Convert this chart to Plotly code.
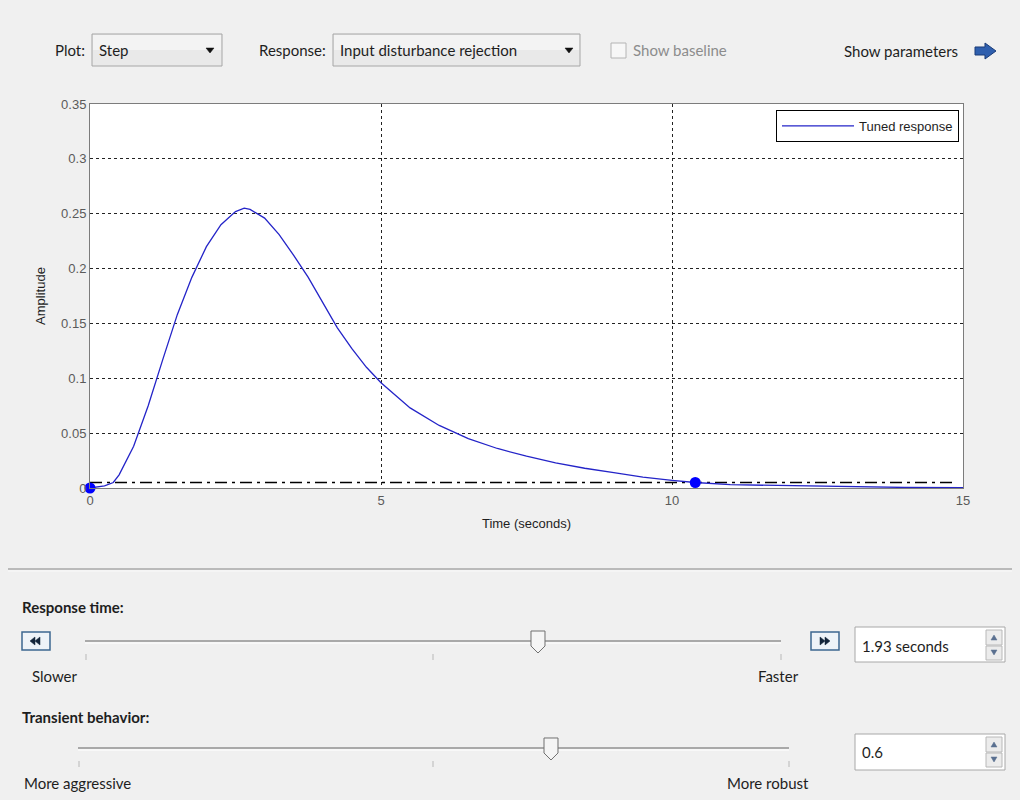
import plotly.graph_objects as go

# ---------------- data ----------------
time_s = [0, 0.25, 0.4, 0.5, 0.75, 1.0, 1.25, 1.5, 1.75, 2.0, 2.25, 2.5, 2.65, 2.75,
          3.0, 3.25, 3.5, 3.75, 4.0, 4.25, 4.5, 4.75, 5.0, 5.5, 6.0, 6.5, 7.0, 7.5,
          8.0, 8.5, 9.0, 9.5, 10.0, 10.4, 11.0, 12.0, 13.0, 14.0, 15.0]
amplitude = [0, 0.002, 0.005, 0.012, 0.038, 0.075, 0.117, 0.158, 0.192, 0.220, 0.240,
             0.252, 0.255, 0.254, 0.246, 0.231, 0.212, 0.192, 0.169, 0.146, 0.127,
             0.110, 0.096, 0.073, 0.057, 0.045, 0.036, 0.029, 0.023, 0.018, 0.014,
             0.010, 0.007, 0.005, 0.003, 0.002, 0.001, 0.0005, 0.0003]
settle_t = [0, 14.85]
settle_y = [0.005, 0.005]
marker_t = [0, 10.4]
marker_y = [0, 0.005]
x_ticks = [0, 5, 10, 15]
x_tick_labels = ["0", "5", "10", "15"]
y_ticks = [0, 0.05, 0.1, 0.15, 0.2, 0.25, 0.3, 0.35]
y_tick_labels = ["0", "0.05", "0.1", "0.15", "0.2", "0.25", "0.3", "0.35"]
series_name = "Tuned response"
plot_choice = "Step"
response_choice = "Input disturbance rejection"
response_time_text = "1.93 seconds"
transient_text = "0.6"

# ---------------- layout helpers (reference pixel -> paper) ----------------
# The page body has an 8px default margin, so the figure is made 8px smaller
# and all reference pixel positions are shifted accordingly.
OFF = 8
W, H = 1020 - OFF, 800 - OFF
L, R, T, B = 90, 963, 104, 488   # plot area in reference-pixel coordinates


def X(px):
    return (px - L) / (R - L)


def Y(py):
    return (B - py) / (B - T)


shapes = []
annotations = []
UI_FONT = "Lato"
AX_FONT = "Liberation Sans, Arial"


def rect(x0, y0, x1, y1, fill, line="#a0a0a0", width=1):
    shapes.append(dict(type="rect", xref="paper", yref="paper",
                       x0=X(x0), x1=X(x1), y0=Y(y1), y1=Y(y0),
                       fillcolor=fill, line=dict(color=line, width=width), layer="above"))


def poly(pts, fill, line=None, width=1):
    d = "M " + " L ".join(f"{X(a):.5f},{Y(b):.5f}" for a, b in pts) + " Z"
    shapes.append(dict(type="path", xref="paper", yref="paper", path=d,
                       fillcolor=fill,
                       line=dict(color=line or fill, width=width if line else 0.5),
                       layer="above"))


def hline(x0, x1, y, color, width=1):
    shapes.append(dict(type="line", xref="paper", yref="paper",
                       x0=X(x0), x1=X(x1), y0=Y(y), y1=Y(y),
                       line=dict(color=color, width=width), layer="above"))


def vline(x, y0, y1, color, width=1):
    shapes.append(dict(type="line", xref="paper", yref="paper",
                       x0=X(x), x1=X(x), y0=Y(y0), y1=Y(y1),
                       line=dict(color=color, width=width), layer="above"))


def text(px, py, s, anchor="left", size=15, color="#1e1e1e", bold=False, font=UI_FONT):
    annotations.append(dict(xref="paper", yref="paper", x=X(px), y=Y(py),
                            text=f"<b>{s}</b>" if bold else s, showarrow=False,
                            xanchor=anchor, yanchor="middle",
                            font=dict(family=font, size=size, color=color)))


# ---------------- top toolbar ----------------
text(87, 50, "Plot:", anchor="right")
rect(92, 34, 222, 66, "#e9e9e9", "#a6a6a6")
rect(93, 35, 221, 50, "#f3f3f3", "#f3f3f3", 0)
text(97, 50, plot_choice)
poly([(206, 48), (214, 48), (210, 53)], "#111111")

text(328, 50, "Response:", anchor="right")
rect(333, 34, 580, 66, "#e9e9e9", "#a6a6a6")
rect(334, 35, 579, 50, "#f3f3f3", "#f3f3f3", 0)
text(338, 50, response_choice)
poly([(565, 48), (573, 48), (569, 53)], "#111111")

rect(611, 43, 626, 58, "#f7f7f7", "#b4b4b4")
text(631, 50, "Show baseline", color="#8c8c8c")

text(960, 51, "Show parameters", anchor="right")
poly([(975, 47), (985, 47), (985, 43), (996, 51), (985, 59), (985, 55), (975, 55)],
     "#2f5fae", "#1b3c78", 1)

# ---------------- separator ----------------
hline(8, 1020, 569, "#a8a8a8", 1.5)
hline(8, 1020, 571, "#fafafa", 1)

# ---------------- response time slider ----------------
text(20, 607, "Response time:", bold=True)
rect(22, 632, 50, 650, "#eef3f8", "#3d6790", 1.5)
poly([(35, 637), (30, 641), (35, 645)], "#13243a")
poly([(40, 637), (35, 641), (40, 645)], "#13243a")
hline(85, 781, 641, "#a9a9a9", 2)
hline(85, 781, 643, "#ffffff", 1)
for tx in (86, 433, 781):
    vline(tx, 654, 660, "#b8b8b8", 1)
poly([(531, 631), (545, 631), (545, 646), (538, 653), (531, 646)], "#f5f5f5", "#707070", 1)
text(30, 676, "Slower")
text(801, 676, "Faster", anchor="right")
rect(811, 632, 839, 650, "#eef3f8", "#3d6790", 1.5)
poly([(820, 637), (825, 641), (820, 645)], "#13243a")
poly([(825, 637), (830, 641), (825, 645)], "#13243a")
rect(855, 627, 1005, 662, "#ffffff", "#a8a8a8")
text(860, 646, response_time_text)
rect(986, 630, 1002, 645, "#ececec", "#b8b8b8")
rect(986, 646, 1002, 660, "#ececec", "#b8b8b8")
poly([(991, 640), (997, 640), (994, 635)], "#5a7090")
poly([(991, 650), (997, 650), (994, 655)], "#5a7090")

# ---------------- transient behavior slider ----------------
text(20, 717, "Transient behavior:", bold=True)
hline(78, 789, 748, "#a9a9a9", 2)
hline(78, 789, 750, "#ffffff", 1)
for tx in (79, 433, 789):
    vline(tx, 761, 767, "#b8b8b8", 1)
poly([(544, 738), (558, 738), (558, 753), (551, 760), (544, 753)], "#f5f5f5", "#707070", 1)
text(22, 783, "More aggressive")
text(811, 783, "More robust", anchor="right")
rect(855, 734, 1005, 770, "#ffffff", "#a8a8a8")
text(860, 752, transient_text)
rect(986, 737, 1002, 752, "#ececec", "#b8b8b8")
rect(986, 753, 1002, 767, "#ececec", "#b8b8b8")
poly([(991, 747), (997, 747), (994, 742)], "#5a7090")
poly([(991, 757), (997, 757), (994, 762)], "#5a7090")

# ---------------- figure ----------------
fig = go.Figure()
fig.add_trace(go.Scatter(x=settle_t, y=settle_y, mode="lines", showlegend=False,
                         line=dict(color="#000000", width=1.5, dash="12px,5px,3px,5px"),
                         hoverinfo="skip"))
fig.add_trace(go.Scatter(x=time_s, y=amplitude, mode="lines", name=series_name,
                         line=dict(color="#2424c8", width=1.3)))
fig.add_trace(go.Scatter(x=marker_t, y=marker_y, mode="markers", showlegend=False,
                         marker=dict(color="#0000ff", size=11), cliponaxis=False))

axis_common = dict(showline=True, mirror=True, linecolor="#7c7c7c", linewidth=1,
                   showgrid=True, gridcolor="#222222", gridwidth=1, griddash="3px,3px",
                   zeroline=False, ticks="",
                   tickfont=dict(family=AX_FONT, size=13, color="#5a5a5a"))

fig.update_layout(
    width=W, height=H,
    margin=dict(l=L - OFF, r=(1020 - R), t=T - OFF, b=(800 - B)),
    paper_bgcolor="#f0f0f0", plot_bgcolor="#ffffff",
    xaxis=dict(range=[0, 15], tickvals=x_ticks, ticktext=x_tick_labels,
               title=dict(text="Time (seconds)", standoff=12,
                          font=dict(family=AX_FONT, size=13, color="#1e1e1e")),
               **axis_common),
    yaxis=dict(range=[0, 0.35], tickvals=y_ticks, ticktext=y_tick_labels,
               title=dict(text="Amplitude", standoff=12,
                          font=dict(family=AX_FONT, size=13, color="#1e1e1e")),
               **axis_common),
    legend=dict(x=X(959), xanchor="right", y=Y(110), yanchor="top",
                bgcolor="#ffffff", bordercolor="#000000", borderwidth=1,
                itemwidth=72, font=dict(family=AX_FONT, size=13, color="#1e1e1e")),
    shapes=shapes, annotations=annotations,
    showlegend=True,
)

fig.write_html("out.html",
               post_script="document.body.style.background='#f0f0f0';")
